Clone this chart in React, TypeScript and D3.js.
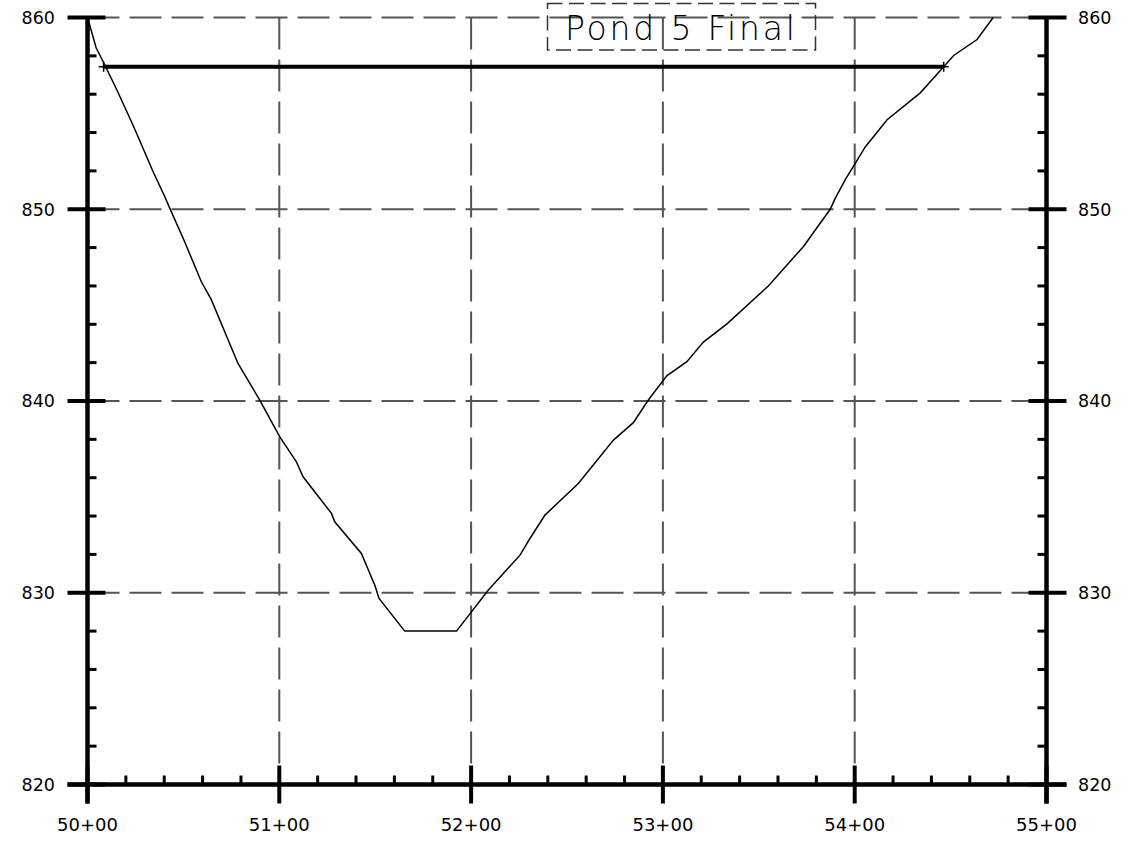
import React from "react";
import * as d3 from "d3";

const stations = [5000, 5004.5, 5008.9, 5015.7, 5022.8, 5025.4, 5034.1, 5040.2, 5042.8, 5050.6, 5059.3, 5064.6, 5078.4, 5089.8, 5100.2, 5108.9, 5112.4, 5127.2, 5128.9, 5142.8, 5149.8, 5152.0, 5165.4, 5192.4, 5208.9, 5225.5, 5230.7, 5238.5, 5255.9, 5274.2, 5284.6, 5292.4, 5302.0, 5312.5, 5321.1, 5333.4, 5355.1, 5373.3, 5387.3, 5389.9, 5395.1, 5405.5, 5416.9, 5434.2, 5446.4, 5451.6, 5463.8, 5472.2];
const elevations = [860, 858.42, 857.55, 856.14, 854.59, 854.0, 851.98, 850.68, 850.07, 848.32, 846.23, 845.27, 841.97, 840.05, 838.14, 836.83, 836.05, 834.14, 833.7, 832.05, 830.39, 829.7, 828.0, 828.0, 830.13, 831.96, 832.83, 834.05, 835.7, 837.96, 838.87, 840.05, 841.31, 842.05, 843.07, 844.02, 846.01, 848.06, 850.01, 850.58, 851.54, 853.25, 854.67, 856.07, 857.43, 858.02, 858.85, 860];

const waterStations = [5008.4, 5446.4];
const waterElevation = 857.43;

const xMajorTicks = [5000, 5100, 5200, 5300, 5400, 5500];
const yMajorTicks = [820, 830, 840, 850, 860];
const xMinorStep = 20;
const yMinorStep = 2;
const title = "Pond 5 Final";

const fmtStation = (v: number) => `${Math.floor(v / 100)}+${String(Math.round(v % 100)).padStart(2, "0")}`;

export default function App() {
  const x = d3.scaleLinear().domain([5000, 5500]).range([87.5, 1046.5]);
  const y = d3.scaleLinear().domain([820, 860]).range([784.5, 17.5]);
  const x0 = x(5000), x1 = x(5500), yTop = y(860), yBot = y(820);

  const line = d3.line<number>().x((_, i) => x(stations[i])).y((d) => y(d));
  const groundPath = line(elevations) || "";

  const xMinor = d3.range(5000, 5500 + 0.001, xMinorStep).filter((v) => !xMajorTicks.includes(v));
  const yMinor = d3.range(820, 860 + 0.001, yMinorStep).filter((v) => !yMajorTicks.includes(v));

  const grid = "#555";
  const font = "'DejaVu Sans', sans-serif";
  const wy = y(waterElevation);

  return (
    <svg width={1128} height={846} style={{ position: "absolute", left: 0, top: 0, display: "block", background: "#fff" }}>
      <rect x={0} y={0} width={1128} height={846} fill="#fff" />
      {/* gridlines */}
      {xMajorTicks.slice(1, -1).map((v) => (
        <line key={"gx" + v} x1={x(v)} x2={x(v)} y1={yTop} y2={yBot} stroke={grid} strokeWidth={2} strokeDasharray="32 10" />
      ))}
      {yMajorTicks.slice(1).map((v) => (
        <line key={"gy" + v} x1={x0} x2={x1} y1={y(v)} y2={y(v)} stroke={grid} strokeWidth={2} strokeDasharray="32 10" />
      ))}

      {/* title box */}
      <rect x={547.5} y={3.5} width={268} height={46.5} fill="none" stroke="#333" strokeWidth={1.5} strokeDasharray="15 6.5" />
      <text x={565} y={39.5} fontFamily={font} fontWeight={200} fontSize={33} fill="#000" textLength={230} lengthAdjust="spacing">{title}</text>

      {/* ground */}
      <path d={groundPath} fill="none" stroke="#000" strokeWidth={1.5} />

      {/* water line */}
      <line x1={x(waterStations[0])} x2={x(waterStations[1])} y1={wy} y2={wy} stroke="#000" strokeWidth={4} />
      {waterStations.map((s) => (
        <g key={"w" + s}>
          <line x1={x(s)} x2={x(s)} y1={wy - 5} y2={wy + 5} stroke="#000" strokeWidth={1.5} />
          <line x1={x(s) - 5} x2={x(s) + 5} y1={wy} y2={wy} stroke="#000" strokeWidth={1.5} />
        </g>
      ))}

      {/* axes */}
      <line x1={x0} x2={x0} y1={yTop} y2={yBot + 19} stroke="#000" strokeWidth={4.5} />
      <line x1={x1} x2={x1} y1={yTop} y2={yBot + 19} stroke="#000" strokeWidth={4.5} />
      <line x1={x0 - 20} x2={x1 + 20} y1={yBot} y2={yBot} stroke="#000" strokeWidth={4.5} />

      {/* y major ticks */}
      {yMajorTicks.map((v) => (
        <g key={"ym" + v}>
          <line x1={x0 - 20} x2={x0 + 18} y1={y(v)} y2={y(v)} stroke="#000" strokeWidth={4} />
          <line x1={x1 - 18} x2={x1 + 20} y1={y(v)} y2={y(v)} stroke="#000" strokeWidth={4} />
          <text x={55} y={y(v)} dy="0.36em" textAnchor="end" fontFamily={font} fontSize={17.5} fill="#000">{v}</text>
          <text x={1078} y={y(v)} dy="0.36em" textAnchor="start" fontFamily={font} fontSize={17.5} fill="#000">{v}</text>
        </g>
      ))}
      {yMinor.map((v) => (
        <g key={"yn" + v}>
          <line x1={x0} x2={x0 + 9} y1={y(v)} y2={y(v)} stroke="#000" strokeWidth={3} />
          <line x1={x1 - 9} x2={x1} y1={y(v)} y2={y(v)} stroke="#000" strokeWidth={3} />
        </g>
      ))}

      {/* x ticks */}
      {xMajorTicks.map((v) => (
        <g key={"xm" + v}>
          <line x1={x(v)} x2={x(v)} y1={yBot - 19} y2={yBot + 19} stroke="#000" strokeWidth={4} />
          <text x={x(v)} y={831} textAnchor="middle" fontFamily={font} fontSize={18} fill="#000">{fmtStation(v)}</text>
        </g>
      ))}
      {xMinor.map((v) => (
        <line key={"xn" + v} x1={x(v)} x2={x(v)} y1={yBot - 9} y2={yBot} stroke="#000" strokeWidth={3} />
      ))}
    </svg>
  );
}
